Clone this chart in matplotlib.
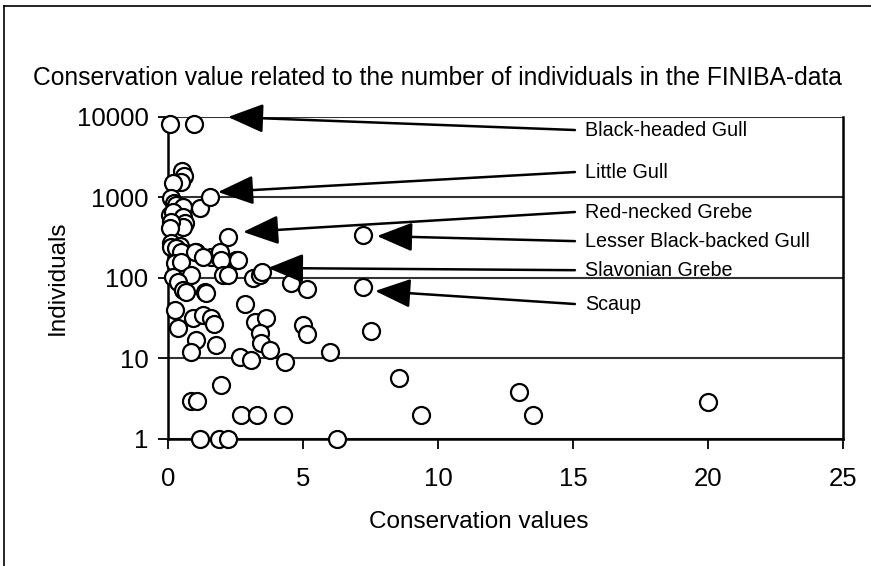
import matplotlib
matplotlib.use('Agg')
import matplotlib.pyplot as plt
from matplotlib.lines import Line2D

plt.rcParams['font.family'] = ['Liberation Sans', 'DejaVu Sans']

# conservation value vs number of individuals
cons = [0.07, 0.96,
        0.52, 0.59, 0.48, 0.19, 0.11, 0.22, 0.30, 0.56, 1.19, 1.56,
        0.07, 0.19, 0.56, 0.63, 0.56, 0.11, 0.07, 0.11, 0.44, 0.48, 2.22,
        1.04, 1.59, 1.85, 2.52,
        0.11, 0.30, 0.48, 1.00, 1.30, 1.93, 1.96, 2.59, 0.26, 0.48,
        0.85, 0.19, 0.37, 0.56, 0.67, 1.37, 1.41, 2.04, 2.22, 3.15, 3.41, 3.48,
        4.56, 5.15, 7.22, 7.22, 2.85, 0.26, 0.93, 1.30, 1.60, 1.70, 0.37,
        3.22, 3.63, 3.41, 3.44, 3.78, 1.04, 1.78, 0.85, 5.00, 5.15, 7.52,
        2.67, 3.07, 4.33, 6.00, 8.55, 1.96, 0.85, 1.07,
        2.70, 3.30, 4.26, 9.37, 13.5, 13.0, 20.0,
        1.19, 1.89, 2.22, 6.26]
indiv = [8150, 8300,
         2140, 1840, 1550, 1510, 990, 860, 800, 760, 740, 1020,
         600, 660, 570, 480, 430, 500, 420, 270, 250, 210, 323,
         210, 183, 185, 165,
         242, 236, 210, 210, 183, 210, 168, 168, 154, 158,
         109, 102, 89, 71, 67, 67, 66, 109, 109, 100, 109, 120,
         87, 73, 343, 77, 47, 40, 32, 35, 32, 27, 24,
         28, 32, 21, 15.5, 12.8, 17, 14.7, 12, 26, 20, 22,
         10.4, 9.6, 9.0, 12, 5.7, 4.7, 3, 3,
         2, 2, 2, 2, 2, 3.8, 2.9,
         1, 1, 1, 1]

species = ['Black-headed Gull', 'Little Gull', 'Red-necked Grebe',
           'Lesser Black-backed Gull', 'Slavonian Grebe', 'Scaup']
arrow_tip_x = [2.22, 1.85, 2.78, 7.74, 3.70, 7.67]
arrow_tip_y = [10000, 1170, 373, 332, 133, 69]
label_y = [6890, 2070, 660, 287, 125, 47.5]

yticks = [1, 10, 100, 1000, 10000]
xticks = [0, 5, 10, 15, 20, 25]

fig = plt.figure(figsize=(8.71, 5.66), dpi=100)
ax = fig.add_axes([0.1929, 0.2244, 0.775, 0.5689])

ax.set_yscale('log')
ax.set_xlim(0, 25)
ax.set_ylim(1, 10000)
for t in yticks:
    ax.axhline(t, color='#333333', lw=1.5, zorder=1)

ax.scatter(cons, indiv, s=150, facecolors='white', edgecolors='black',
           linewidths=1.6, zorder=3, clip_on=False)

for name, tx, ty, ly in zip(species, arrow_tip_x, arrow_tip_y, label_y):
    ax.annotate('', xy=(tx, ty), xytext=(15.07, ly),
                arrowprops=dict(arrowstyle='-|>,head_length=1.1,head_width=0.45',
                                color='black', lw=1.8, mutation_scale=20,
                                shrinkA=0, shrinkB=0), zorder=4)
    ax.text(15.44, ly, name, fontsize=14.2, va='center', ha='left')

ax.set_xticks(xticks)
ax.set_xticklabels([str(v) for v in xticks], fontsize=18.5)
ax.set_yticks(yticks)
ax.set_yticklabels([str(v) for v in yticks], fontsize=18.5)
ax.minorticks_off()
ax.tick_params(axis='both', direction='out', length=7, width=1.3)
ax.tick_params(axis='x', pad=13)
ax.tick_params(axis='y', pad=7)
for s in ['left', 'right', 'bottom']:
    ax.spines[s].set_linewidth(1.8)
ax.spines['top'].set_visible(False)

ax.set_xlabel('Conservation values', fontsize=17.5)
ax.set_ylabel('Individuals', fontsize=17.5)
ax.xaxis.set_label_coords(0.461, -0.225)
ax.yaxis.set_label_coords(-0.147, 0.5)

fig.text(0.038, 0.862, 'Conservation value related to the number of individuals in the FINIBA-data',
         fontsize=17.7, ha='left', va='center')

# outer frame (left and top only visible in the source)
fig.add_artist(Line2D([0.005, 0.005], [0.0, 0.989], color='black', lw=1.2))
fig.add_artist(Line2D([0.005, 1.0], [0.989, 0.989], color='black', lw=1.2))

plt.savefig('out.png', dpi=100)
